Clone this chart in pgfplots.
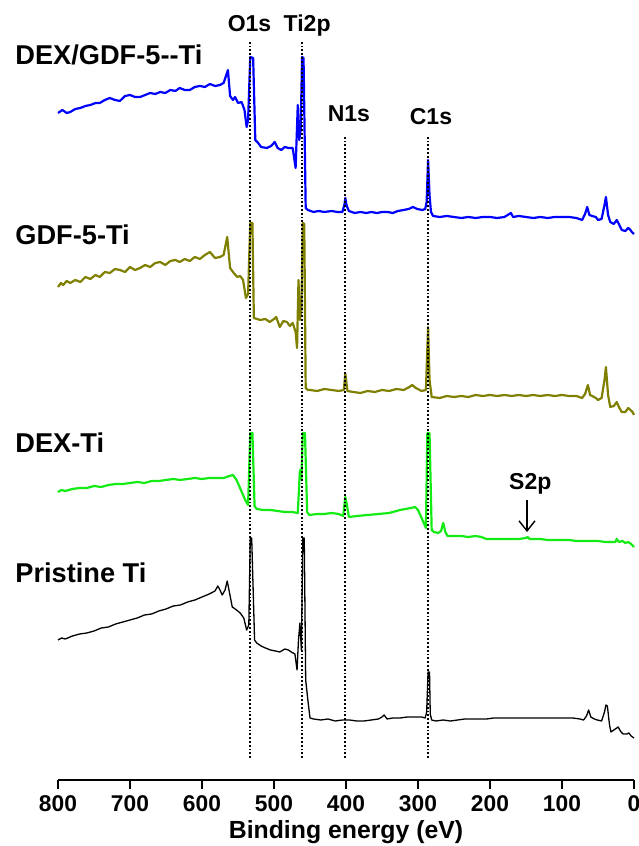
\documentclass[border=0pt]{standalone}
\usepackage{fontspec}
\setmainfont{Liberation Sans}
\usepackage{pgfplots}
\pgfplotsset{compat=1.18}
\usetikzlibrary{arrows.meta}

\definecolor{xblue}{RGB}{0,0,255}
\definecolor{xolive}{RGB}{128,128,0}
\definecolor{xgreen}{RGB}{20,235,20}

\begin{document}
\begin{tikzpicture}
\begin{axis}[scale only axis, width=288pt, height=390pt,
  xmin=0, xmax=800, ymin=0, ymax=780, x dir=reverse,
  axis x line*=bottom, axis y line=none,
  axis line style={line width=1pt},
  xtick={0,100,...,800}, tick align=outside, major tick length=4.5pt,
  tick style={line width=1pt, black},
  /pgf/number format/assume math mode=true,
  x tick label style={font=\fontsize{11.4}{13}\selectfont\bfseries},
  xlabel={Binding energy (eV)},
  xlabel style={font=\fontsize{12.4}{14}\selectfont\bfseries, at={(axis description cs:0.5,-0.0744)}, anchor=base},
  clip=false, line join=round]

% DEX/GDF-5--Ti
\addplot[xblue, line width=1.1pt] coordinates {
(800,667)(794,670)(788,667)(783,668)(776,671)(769,672)(762,674)(755,675)(748,677)(742,677)
(735,680)(728,682)(721,680)(714,679)(707,684)(700,685)(693,683)(686,683)(679,685)(672,687)
(665,686)(658,688)(651,687)(644,690)(637,689)(631,692)(624,690)(617,690)(610,693)(603,694)
(596,693)(589,696)(582,694)(575,695)(570,697)(564,710)(561,684)(557,680)(554,683)(550,677)
(545,678)(541,670)(538,653)(536,660)(533,723)(529,722)(526,640)(522,637)(518,633)(510,632)
(504,634)(499,638)(495,632)(490,630)(485,633)(480,632)(474,632)(470,612)(467,675)(465,640)
(463,650)(461,723)(459,722)(456,572)(453,570)(445,568)(438,569)(430,568)(420,569)(412,568)
(405,568)(402,576)(401,582)(399,574)(396,569)(388,567)(380,568)(372,567)(365,568)(357,567)
(350,568)(342,568)(335,567)(328,569)(320,570)(313,571)(307,573)(301,571)(294,570)(290,571)
(288,578)(286,620)(284,585)(282,568)(279,564)(270,563)(260,564)(250,563)(240,562)(230,563)
(220,562)(210,563)(200,563)(190,562)(180,563)(171,567)(168,563)(160,564)(150,563)(140,562)
(130,563)(120,562)(110,563)(100,563)(90,563)(80,562)(72,560)(68,566)(65,573)(62,565)
(58,564)(53,563)(50,560)(45,561)(41,575)(39,583)(36,565)(33,558)(28,556)(24,560)
(21,556)(17,550)(12,549)(8,552)(6,551)(3,548)(0,546)};

% GDF-5-Ti
\addplot[xolive, line width=1.1pt] coordinates {
(800,493)(796,497)(793,495)(788,499)(783,497)(776,500)(769,498)(762,503)(755,501)(748,505)
(742,503)(735,508)(728,507)(721,511)(714,510)(707,508)(700,513)(693,510)(686,512)(679,515)
(672,513)(665,517)(658,518)(651,515)(644,519)(637,520)(631,518)(624,521)(617,519)(610,523)
(603,521)(596,525)(589,528)(582,522)(575,523)(570,525)(565,543)(561,512)(556,507)(551,503)
(547,504)(543,500)(539,482)(536,486)(533,557)(530,557)(528,462)(519,460)(512,461)(506,458)
(500,461)(497,463)(492,453)(487,459)(482,458)(478,454)(474,457)(470,448)(468,432)(466,500)
(464,460)(462,470)(460,557)(458,556)(456,392)(453,390)(450,390)(440,389)(430,391)(420,390)
(410,389)(403,390)(401,407)(398,389)(390,388)(380,387)(370,389)(360,388)(350,390)(340,389)
(330,391)(320,390)(312,393)(308,395)(303,392)(295,389)(289,390)(286,453)(284,400)(281,383)
(270,382)(260,384)(250,383)(240,384)(230,383)(220,385)(210,384)(200,385)(190,384)(180,385)
(170,384)(160,385)(150,384)(140,385)(130,384)(120,385)(110,384)(100,385)(90,384)(80,384)
(72,382)(68,386)(64,395)(61,385)(58,384)(53,382)(50,380)(45,382)(41,400)(39,413)
(36,385)(33,373)(28,374)(24,378)(21,373)(17,368)(12,368)(8,372)(5,370)(2,368)(0,365)};

% DEX-Ti
\addplot[xgreen, line width=1.1pt] coordinates {
(800,288)(795,290)(790,289)(780,291)(770,292)(760,292)(750,294)(740,293)(730,295)(720,296)
(710,296)(700,297)(690,298)(680,297)(670,299)(660,299)(650,300)(640,301)(630,300)(620,301)
(610,302)(600,301)(590,302)(580,302)(570,302)(562,304)(557,305)(552,300)(546,290)(540,280)
(536,275)(533,347)(530,347)(527,274)(524,271)(515,270)(505,270)(495,269)(485,268)(475,268)
(467,267)(464,310)(462,300)(460,347)(457,347)(454,268)(451,265)(440,266)(430,266)(420,267)
(410,266)(404,264)(401,283)(399,276)(396,263)(385,264)(370,265)(355,266)(340,267)(325,270)
(310,272)(304,273)(300,270)(295,262)(289,252)(287,347)(284,347)(281,250)(278,248)(272,247)
(268,249)(265,257)(262,248)(259,244)(250,244)(240,244)(230,243)(220,244)(212,243)(205,241)
(200,241)(190,241)(180,241)(170,241)(160,241)(150,242)(148,243)(145,241)(130,241)(120,240)
(110,240)(100,240)(90,240)(80,239)(70,239)(60,239)(50,239)(40,238)(30,238)(26,238)
(24,241)(21,238)(16,239)(12,237)(8,238)(4,236)(0,233)};

% Pristine Ti
\addplot[black, line width=0.65pt] coordinates {
(800,140)(795,142)(790,141)(780,144)(770,146)(760,147)(750,149)(740,152)(730,153)(720,156)
(710,158)(700,160)(690,162)(680,165)(670,166)(660,169)(650,171)(640,174)(630,175)(620,178)
(610,180)(600,183)(590,186)(582,189)(578,194)(575,190)(572,185)(568,190)(565,199)(562,188)
(558,173)(552,170)(547,167)(542,162)(538,150)(535,155)(533,242)(531,242)(527,140)(524,137)
(518,134)(512,132)(505,130)(498,129)(492,128)(485,131)(480,130)(476,128)(471,126)(468,110)
(466,140)(464,157)(462,130)(460,242)(458,242)(456,100)(453,80)(450,62)(445,61)(435,60)
(425,61)(415,59)(405,60)(395,60)(385,59)(375,59)(365,60)(355,61)(350,63)(347,65)
(343,61)(335,62)(325,62)(315,63)(305,63)(295,63)(290,62)(288,68)(286,108)(284,108)
(283,66)(281,60)(275,59)(265,60)(255,59)(245,60)(235,61)(225,61)(215,61)(205,61)
(195,62)(185,62)(175,62)(165,62)(155,62)(145,62)(135,62)(125,62)(115,62)(105,62)
(95,62)(85,62)(75,61)(70,60)(66,64)(63,70)(60,63)(55,61)(51,60)(45,59)
(41,68)(39,75)(37,74)(34,55)(32,48)(28,50)(22,53)(18,48)(15,46)(10,46)(7,47)(4,44)(0,42)};

% peak markers
\draw[densely dotted, line width=0.9pt] (axis cs:533,22) -- (axis cs:533,740);
\draw[densely dotted, line width=0.9pt] (axis cs:461,22) -- (axis cs:461,740);
\draw[densely dotted, line width=0.9pt] (axis cs:401,22) -- (axis cs:401,645);
\draw[densely dotted, line width=0.9pt] (axis cs:286,22) -- (axis cs:286,645);

\begin{scope}[every node/.style={font=\fontsize{11.5}{13}\selectfont\bfseries, anchor=base, inner sep=0pt}]
\node at (axis cs:534,748) {O1s};
\node at (axis cs:454,748) {Ti2p};
\node at (axis cs:396,658) {N1s};
\node at (axis cs:282,655) {C1s};
\node at (axis cs:144,290) {S2p};
\end{scope}
\draw[-{Straight Barb[length=5pt,width=8pt]}, line width=0.7pt] (axis cs:148.6,280) -- (axis cs:148.6,248);

\begin{scope}[every node/.style={font=\fontsize{13.6}{16}\selectfont\bfseries, anchor=base west, inner sep=0pt}]
\node at (axis cs:859.7,715) {DEX/GDF-5-{}-Ti};
\node at (axis cs:859.7,535) {GDF-5-Ti};
\node at (axis cs:859.7,327) {DEX-Ti};
\node at (axis cs:859.7,197) {Pristine Ti};
\end{scope}

\coordinate (bb1) at (axis cs:880.6,-66);
\coordinate (bb2) at (axis cs:-6.9,780);
\end{axis}
\pgfresetboundingbox
\path[use as bounding box] (bb1) rectangle (bb2);
\end{tikzpicture}
\end{document}
